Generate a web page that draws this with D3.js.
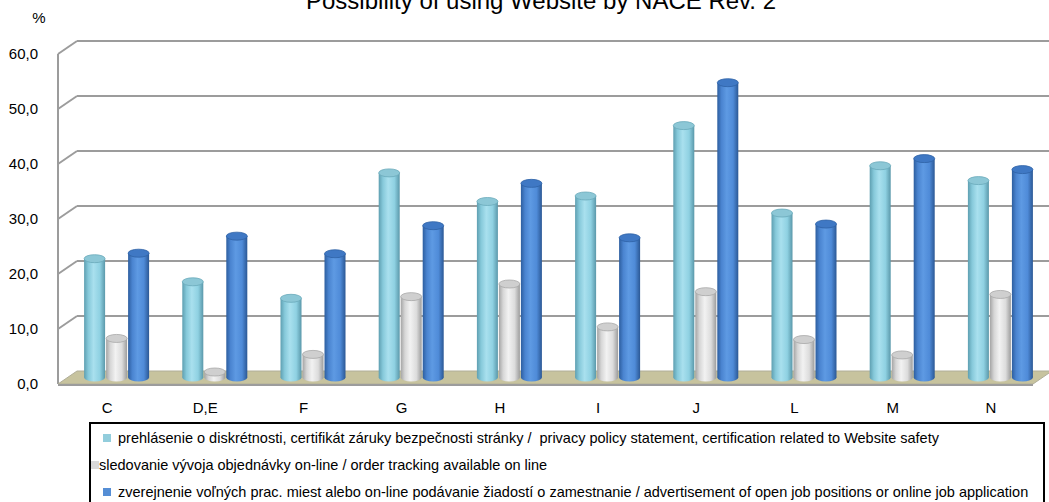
<!DOCTYPE html>
<html>
<head>
<meta charset="utf-8">
<script src="https://cdn.jsdelivr.net/npm/d3@7"></script>
<style>
  body { margin: 0; background: #fff; }
  svg { display: block; font-family: "Liberation Sans", Arial, sans-serif; }
</style>
</head>
<body>
<div id="chart"></div>
<script>
var categories = ["C", "D,E", "F", "G", "H", "I", "J", "L", "M", "N"];
var seriesNames = [
    "prehlásenie o diskrétnosti, certifikát záruky bezpečnosti stránky /  privacy policy statement, certification related to Website safety",
    "sledovanie vývoja objednávky on-line / order tracking available on line",
    "zverejnenie voľných prac. miest alebo on-line podávanie žiadostí o zamestnanie / advertisement of open job positions or online job application"
];
var privacyValues = [21.6, 17.4, 14.4, 37.2, 32.0, 33.0, 45.8, 29.9, 38.5, 35.8];
var trackingValues = [7.1, 1.0, 4.2, 14.7, 17.0, 9.2, 15.6, 6.9, 4.1, 15.1];
var jobsValues = [22.6, 25.7, 22.5, 27.6, 35.3, 25.4, 53.6, 27.9, 39.8, 37.8];
var yTicks = [0, 10, 20, 30, 40, 50, 60];

var W = 1049, H = 502;
var DX = 19, DY = -13;           // 3D depth offset (front -> back wall)

var svg = d3.select("#chart").append("svg")
    .attr("width", W)
    .attr("height", H);

/* Scales */
var x = d3.scaleBand().domain(categories).range([58, 1040]).padding(0);
var xs = d3.scaleBand().domain([0, 1, 2]).range([-33, 33]).padding(0);
var y = d3.scaleLinear().domain([0, 60]).range([384, 54]);

/* Gradients for the cylinders */
var styles = [
    { stops: ["#5e9fb1", "#86c9da", "#a9e0ee", "#8fd1e2", "#5a98aa"], top: "#8cc7d6", rim: "#6aa9ba", legend: "#92cddc" },
    { stops: ["#a4a4a4", "#d6d6d6", "#f2f2f2", "#dcdcdc", "#9c9c9c"], top: "#cfcfcf", rim: "#a8a8a8", legend: "#d9d9d9" },
    { stops: ["#2d5e9f", "#4a84d0", "#5e9ae3", "#4f8bd8", "#2b5895"], top: "#3f78c4", rim: "#2e62a6", legend: "#558ed5" }
];
var defs = svg.append("defs");
styles.forEach(function(s, i){
    var g = defs.append("linearGradient")
        .attr("id", "cyl" + i)
        .attr("x1", "0%").attr("x2", "100%").attr("y1", "0%").attr("y2", "0%");
    [0, 0.2, 0.45, 0.75, 1].forEach(function(o, j){
        g.append("stop").attr("offset", o).attr("stop-color", s.stops[j]);
    });
});

/* Title and unit (title is cut at the top, as in the original) */
svg.append("text")
    .attr("x", 541).attr("y", 9)
    .attr("text-anchor", "middle")
    .style("font-size", "24px")
    .text("Possibility of using Website by NACE Rev. 2");
svg.append("text")
    .attr("x", 39).attr("y", 23)
    .attr("text-anchor", "middle")
    .style("font-size", "15px")
    .text("%");

/* Walls: grid lines on back wall and left wall */
var grid = svg.append("g").attr("class", "grid");
yTicks.filter(function(d){ return d > 0; }).forEach(function(t){
    grid.append("line")
        .attr("x1", 58 + DX).attr("x2", W)
        .attr("y1", y(t) + DY).attr("y2", y(t) + DY)
        .attr("stroke", "#9c9c9c").attr("stroke-width", 2);
    grid.append("line")
        .attr("x1", 58).attr("x2", 58 + DX)
        .attr("y1", y(t)).attr("y2", y(t) + DY)
        .attr("stroke", "#9c9c9c").attr("stroke-width", 2);
});
grid.append("line")
    .attr("x1", 58).attr("x2", 58)
    .attr("y1", y(60)).attr("y2", y(0))
    .attr("stroke", "#9c9c9c").attr("stroke-width", 2);

/* Floor */
var floorRight = 1033;
svg.append("polygon")
    .attr("points", [
        [58, y(0)], [floorRight, y(0)], [floorRight + DX, y(0) + DY], [58 + DX, y(0) + DY]
    ].map(function(p){ return p.join(","); }).join(" "))
    .attr("fill", "#c7c39e")
    .attr("stroke", "#b0ae98").attr("stroke-width", 1);
svg.append("line")
    .attr("x1", 58).attr("x2", floorRight)
    .attr("y1", y(0) + 1).attr("y2", y(0) + 1)
    .attr("stroke", "#9c9c9c").attr("stroke-width", 2);

/* Y labels */
svg.append("g").selectAll("text")
    .data(yTicks)
    .enter().append("text")
        .attr("x", 38)
        .attr("y", function(d){ return y(d); })
        .attr("dy", "0.35em")
        .attr("text-anchor", "end")
        .style("font-size", "15px")
        .text(function(d){ return d3.format(".1f")(d).replace(".", ","); });

/* X labels */
svg.append("g").selectAll("text")
    .data(categories)
    .enter().append("text")
        .attr("x", function(d){ return x(d) + x.bandwidth() / 2; })
        .attr("y", 413)
        .attr("text-anchor", "middle")
        .style("font-size", "15px")
        .text(function(d){ return d; });

/* Cylinders (sit at mid depth) */
var data = [];
[privacyValues, trackingValues, jobsValues].forEach(function(vals, s){
    vals.forEach(function(v, i){
        data.push({ cat: categories[i], s: s, v: v });
    });
});
var barW = 21, ry = 4;
var bars = svg.append("g").selectAll("g")
    .data(data)
    .enter().append("g")
        .attr("transform", function(d){
            var cx = x(d.cat) + x.bandwidth() / 2 + xs(d.s) + xs.bandwidth() / 2 + DX / 2;
            return "translate(" + cx + "," + (DY / 2) + ")";
        });
bars.append("ellipse")
    .attr("cx", 0).attr("cy", y(0))
    .attr("rx", barW / 2).attr("ry", ry)
    .attr("fill", function(d){ return "url(#cyl" + d.s + ")"; });
bars.append("rect")
    .attr("x", -barW / 2).attr("width", barW)
    .attr("y", function(d){ return y(d.v); })
    .attr("height", function(d){ return y(0) - y(d.v); })
    .attr("fill", function(d){ return "url(#cyl" + d.s + ")"; });
bars.append("ellipse")
    .attr("cx", 0).attr("cy", function(d){ return y(d.v); })
    .attr("rx", barW / 2).attr("ry", ry)
    .attr("fill", function(d){ return styles[d.s].top; })
    .attr("stroke", function(d){ return styles[d.s].rim; })
    .attr("stroke-width", 0.8);

/* Legend */
var legend = svg.append("g");
legend.append("rect")
    .attr("x", 90).attr("y", 423)
    .attr("width", 954).attr("height", 100)
    .attr("fill", "#fff")
    .attr("stroke", "#000").attr("stroke-width", 2);
var legendPos = [
    { mx: 103, tx: 118, y: 438 },
    { mx: 91, tx: 99, y: 465 },
    { mx: 103, tx: 118, y: 492 }
];
seriesNames.forEach(function(name, i){
    var p = legendPos[i];
    legend.append("rect")
        .attr("x", p.mx).attr("y", p.y - 4)
        .attr("width", 8).attr("height", 8)
        .attr("fill", styles[i].legend);
    legend.append("text")
        .attr("x", p.tx).attr("y", p.y)
        .attr("dy", "0.35em")
        .style("font-size", "14.5px")
        .style("white-space", "pre")
        .text(name);
});
</script>
</body>
</html>
